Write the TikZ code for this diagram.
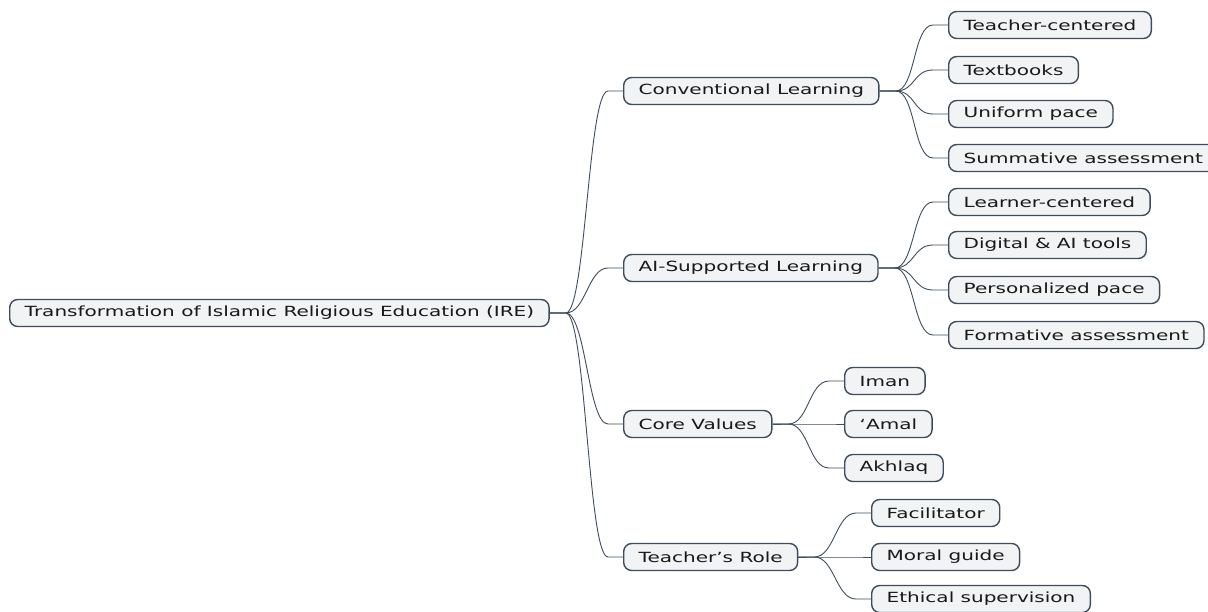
\documentclass[tikz,border=0pt]{standalone}
\usepackage{fontspec}
\newfontfamily\dv[FakeStretch=1.43]{DejaVu Sans}
\usetikzlibrary{calc}
\definecolor{edge}{HTML}{3E4C5C}
\definecolor{boxfill}{HTML}{F1F3F4}
\tikzset{
  mm/.style={draw=edge, fill=boxfill, line width=1.4pt, rounded corners=8pt,
    minimum height=27pt, inner xsep=15pt, inner ysep=0pt, anchor=west,
    font=\dv\fontsize{14pt}{16pt}\selectfont, text=black!90},
  conn/.style={draw=edge, line width=0.9pt}
}
\newcommand\conn[2]{\draw[conn] (#1.east) -- ++(16,0) coordinate (#1-#2-a)
  .. controls ($(#1-#2-a)+(20,0)$) and ($(#2.west)+(-35,0)$) .. ($(#2.west)+(-15,0)$) -- (#2.west);}
\begin{document}
\begin{tikzpicture}[x=1pt,y=-1pt]
\useasboundingbox (0,0) rectangle (1208,611);
\node[mm] (root) at (9,313) {Transformation of Islamic Religious Education (IRE)};
\node[mm] (conv) at (623,91) {Conventional Learning};
\node[mm] (ai) at (623,268) {AI-Supported Learning};
\node[mm] (core) at (623,424) {Core Values};
\node[mm] (role) at (623,557) {Teacher’s Role};
\node[mm] (tc) at (948,25) {Teacher-centered};
\node[mm] (tb) at (948,70) {Textbooks};
\node[mm] (up) at (948,114) {Uniform pace};
\node[mm] (sa) at (948,158) {Summative assessment};
\node[mm] (lc) at (948,202) {Learner-centered};
\node[mm] (da) at (948,245) {Digital \& AI tools};
\node[mm] (pp) at (948,290) {Personalized pace};
\node[mm] (fa) at (948,335) {Formative assessment};
\node[mm] (iman) at (844,381) {Iman};
\node[mm] (amal) at (844,424) {‘Amal};
\node[mm] (akh) at (844,468) {Akhlaq};
\node[mm] (fac) at (871,513) {Facilitator};
\node[mm] (mg) at (871,557) {Moral guide};
\node[mm] (es) at (871,599) {Ethical supervision};
\conn{root}{conv}\conn{root}{ai}\conn{root}{core}\conn{root}{role}
\conn{conv}{tc}\conn{conv}{tb}\conn{conv}{up}\conn{conv}{sa}
\conn{ai}{lc}\conn{ai}{da}\conn{ai}{pp}\conn{ai}{fa}
\conn{core}{iman}\conn{core}{amal}\conn{core}{akh}
\conn{role}{fac}\conn{role}{mg}\conn{role}{es}
\end{tikzpicture}
\end{document}
